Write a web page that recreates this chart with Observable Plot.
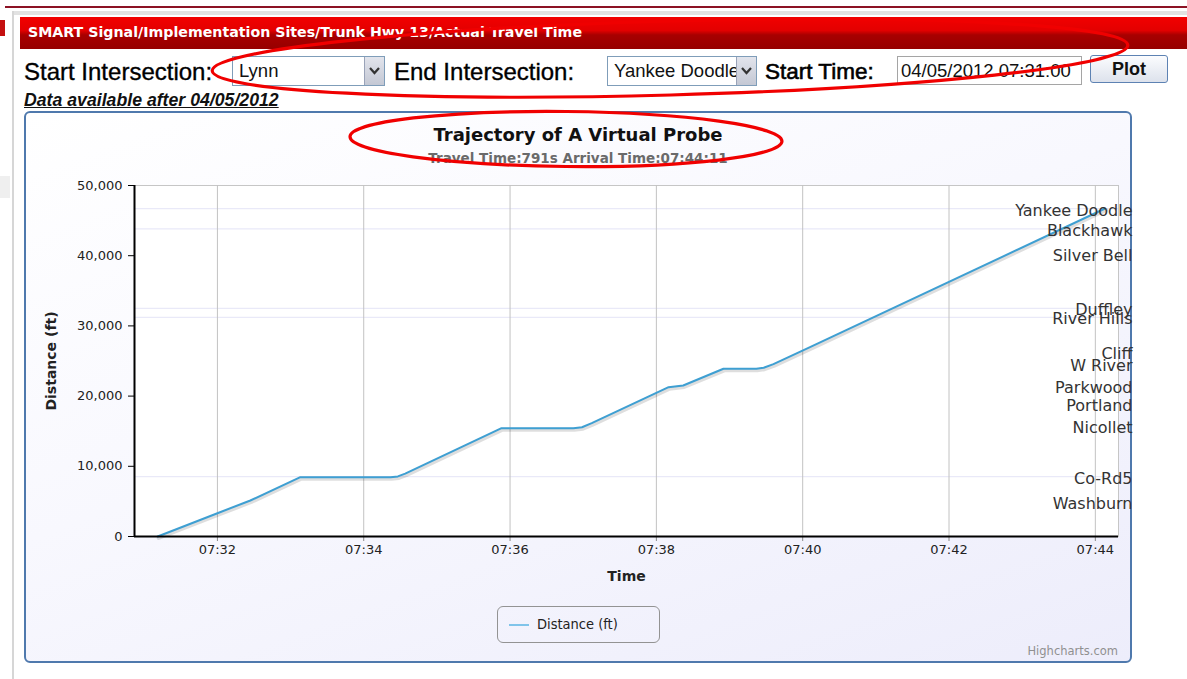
<!DOCTYPE html>
<html>
<head>
<meta charset="utf-8">
<script src="https://cdn.jsdelivr.net/npm/d3@7"></script>
<script src="https://cdn.jsdelivr.net/npm/@observablehq/plot@0.6"></script>
<style>
  html, body { margin: 0; padding: 0; }
  body { width: 1187px; height: 679px; overflow: hidden; background: #fff; position: relative; font-family: "Liberation Sans", Arial, sans-serif; }
  .abs { position: absolute; }
  .ctl { font-size: 24px; color: #000; line-height: 30px; -webkit-text-stroke: 0.35px #000; white-space: nowrap; }
  .sel { border: 1px solid #7f9db9; background: #fff; box-sizing: border-box; overflow: hidden; }
  .sel .txt { position: absolute; left: 6px; top: 0; line-height: 28px; font-size: 18.5px; color: #111; white-space: nowrap; }
  .sel .btn { position: absolute; right: 0; top: 0; width: 20px; height: 100%; background: linear-gradient(#e2e4ec, #c4c8d4); border-left: 1px solid #9aa3b8; box-sizing: border-box; }
  #chartBox { left: 24px; top: 111px; width: 1108px; height: 552px; box-sizing: border-box; border: 2px solid #4f79ad; border-radius: 6px;
              background: linear-gradient(160deg, #ffffff 0%, #f8f8fe 45%, #ededfb 100%); }
  #plotHolder { left: 24px; top: 111px; }
  #plotHolder svg { overflow: visible; }
  g[aria-label="y-axis label"] text, g[aria-label="x-axis label"] text { font-weight: bold; font-size: 14px; fill: #222; }
  g[aria-label="frame"] { filter: drop-shadow(2px -1px 2px rgba(0,0,0,0.28)); }
</style>
</head>
<body>
<!-- page chrome -->
<div class="abs" style="left:5px;top:6px;width:1182px;height:2px;background:#8c1224;"></div>
<div class="abs" style="left:12px;top:11px;width:1175px;height:4px;background:#e2e2e2;"></div>
<div class="abs" style="left:12px;top:11px;width:2px;height:668px;background:#d6d6d6;"></div>
<div class="abs" style="left:0px;top:20px;width:5px;height:16px;background:#c41010;"></div>
<div class="abs" style="left:0px;top:176px;width:10px;height:22px;background:#efefef;"></div>

<div class="abs" id="header" style="left:20px;top:17px;width:1167px;height:32px;background:linear-gradient(#f20000 0%, #e30000 42%, #a80000 56%, #960000 100%);"></div>
<div class="abs" id="headerText" style="left:28px;top:17px;height:32px;line-height:30px;color:#fff;font-family:'DejaVu Sans',sans-serif;font-weight:bold;font-size:14.2px;white-space:nowrap;"></div>

<div class="abs ctl" id="lblStart" style="left:24px;top:57px;"></div>
<div class="abs sel" style="left:232px;top:56px;width:153px;height:30px;"><span class="txt" id="selStart"></span><div class="btn"><svg width="19" height="28"><polyline points="5,11 9.5,16 14,11" fill="none" stroke="#333" stroke-width="2.2"/></svg></div></div>
<div class="abs ctl" id="lblEnd" style="left:394px;top:57px;"></div>
<div class="abs sel" style="left:607px;top:56px;width:150px;height:30px;"><span class="txt" id="selEnd"></span><div class="btn"><svg width="19" height="28"><polyline points="5,11 9.5,16 14,11" fill="none" stroke="#333" stroke-width="2.2"/></svg></div></div>
<div class="abs ctl" id="lblTime" style="left:765px;top:57px;font-size:22.5px;-webkit-text-stroke:0.6px #000;"></div>
<div class="abs" style="left:897px;top:56px;width:185px;height:29px;border:1px solid #a5a5a5;box-sizing:border-box;background:#fff;">
  <span id="inpTime" style="position:absolute;left:3px;top:0;line-height:27px;font-size:18.5px;color:#111;white-space:nowrap;"></span></div>
<div class="abs" id="btnPlot" style="left:1090px;top:55px;width:78px;height:28px;box-sizing:border-box;border:1px solid #5d82b3;border-radius:3px;background:linear-gradient(#fbfcfe,#dde2ec);text-align:center;line-height:26px;font-weight:bold;font-size:18px;color:#111;"></div>

<div class="abs" id="availNote" style="left:24px;top:90px;font-size:17.7px;font-weight:bold;font-style:italic;text-decoration:underline;color:#111;white-space:nowrap;"></div>

<!-- chart container -->
<div class="abs" id="chartBox"></div>
<div class="abs" id="plotHolder"></div>
<div class="abs" id="chartTitle" style="left:24px;width:1108px;top:124px;text-align:center;font-family:'DejaVu Sans',sans-serif;font-weight:bold;font-size:18px;color:#111;"></div>
<div class="abs" id="chartSub" style="left:24px;width:1108px;top:150px;text-align:center;font-family:'DejaVu Sans',sans-serif;font-weight:bold;font-size:13.5px;color:#6a6a6a;"></div>

<div class="abs" style="left:497px;top:606px;width:163px;height:37px;box-sizing:border-box;border:1px solid #939393;border-radius:6px;">
  <div style="position:absolute;left:11px;top:17px;width:20px;height:2px;background:#80c4ea;"></div>
  <span id="legendText" style="position:absolute;left:39px;top:0;line-height:35px;font-family:'DejaVu Sans Condensed','DejaVu Sans',sans-serif;font-size:14.5px;color:#222;white-space:nowrap;"></span>
</div>
<div class="abs" id="credit" style="right:69px;top:644px;font-family:'DejaVu Sans',sans-serif;font-size:11.5px;color:#909090;white-space:nowrap;"></div>

<!-- hand-drawn annotation ellipses -->
<svg class="abs" style="left:0;top:0;pointer-events:none;" width="1187" height="679">
  <ellipse cx="670" cy="58" rx="458" ry="37" transform="rotate(-1.6 670 58)" fill="none" stroke="#f00000" stroke-width="3.2"/>
  <ellipse cx="566" cy="139" rx="216" ry="27.5" transform="rotate(0.6 566 139)" fill="none" stroke="#f00000" stroke-width="3.2"/>
</svg>

<script>
// ---------------- data ----------------
const headerText = "SMART Signal/Implementation Sites/Trunk Hwy 13/Actual Travel Time";
const controlLabels = ["Start Intersection:", "End Intersection:", "Start Time:"];
const startIntersection = "Lynn";
const endIntersection = "Yankee Doodle";
const startTime = "04/05/2012 07:31:00";
const buttonLabel = "Plot";
const availabilityNote = "Data available after 04/05/2012";

const chartTitle = "Trajectory of A Virtual Probe";
const chartSubtitle = "Travel Time:791s Arrival Time:07:44:11";
const xAxisTitle = "Time";
const yAxisTitle = "Distance (ft)";
const seriesName = "Distance (ft)";
const creditText = "Highcharts.com";

// trajectory of the virtual probe (time of day, distance in ft)
const trajTimes = ["07:31:11","07:32:00","07:32:27","07:33:08","07:34:22","07:34:28","07:34:34","07:35:53","07:36:52","07:36:59","07:37:07","07:38:10","07:38:22","07:38:55","07:39:22","07:39:28","07:39:36","07:40:06","07:44:08"];
const trajDist  = [0, 3320, 5130, 8450, 8450, 8560, 8950, 15430, 15430, 15560, 16140, 21270, 21510, 23890, 23890, 24040, 24560, 26970, 46720];

// intersections along the corridor (distance in ft)
const intersectionNames = ["Yankee Doodle","Blackhawk","Silver Bell","Duffley","River Hills","Cliff","W River","Parkwood","Portland","Nicollet","Co-Rd5","Washburn"];
const intersectionDist  = [46720, 43820, 40210, 32500, 31220, 26310, 24540, 21470, 18950, 15770, 8530, 4940];
const intersectionsWithGridLine = ["Yankee Doodle","Blackhawk","Duffley","River Hills","Co-Rd5"];

// axes
const xTickLabels = ["07:32","07:34","07:36","07:38","07:40","07:42","07:44"];
const xDomainLabels = ["07:30:52","07:44:19"];
const yTicks = [0, 10000, 20000, 30000, 40000, 50000];
const yDomain = [0, 50000];

// ---------------- texts ----------------
document.getElementById("headerText").textContent = headerText;
document.getElementById("lblStart").textContent = controlLabels[0];
document.getElementById("lblEnd").textContent = controlLabels[1];
document.getElementById("lblTime").textContent = controlLabels[2];
document.getElementById("selStart").textContent = startIntersection;
document.getElementById("selEnd").textContent = endIntersection;
document.getElementById("inpTime").textContent = startTime;
document.getElementById("btnPlot").textContent = buttonLabel;
document.getElementById("availNote").textContent = availabilityNote;
document.getElementById("chartTitle").textContent = chartTitle;
document.getElementById("chartSub").textContent = chartSubtitle;
document.getElementById("legendText").textContent = seriesName;
document.getElementById("credit").textContent = creditText;

// ---------------- chart ----------------
const parseT = d3.utcParse("%H:%M:%S");
const parseHM = d3.utcParse("%H:%M");
const traj = trajTimes.map((t, i) => ({t: parseT(t), d: trajDist[i]}));
const inter = intersectionNames.map((n, i) => ({name: n, d: intersectionDist[i]}));
const gridRows = inter.filter(r => intersectionsWithGridLine.includes(r.name));
const xTicks = xTickLabels.map(parseHM);
const xDomain = xDomainLabels.map(parseT);

const chart = Plot.plot({
  width: 1108, height: 552,
  marginLeft: 110, marginRight: 14, marginTop: 74, marginBottom: 127,
  style: {background: "transparent", fontFamily: "'DejaVu Sans', sans-serif", fontSize: "13px", color: "#222", overflow: "visible"},
  x: {type: "utc", domain: xDomain},
  y: {domain: yDomain},
  marks: [
    Plot.frame({fill: "white", stroke: "#c6c6c6"}),
    Plot.ruleY(gridRows, {y: "d", stroke: "#e9e9f8", strokeWidth: 1.3}),
    Plot.gridX(xTicks, {stroke: "#c2c2c2", strokeOpacity: 1, strokeWidth: 1}),
    Plot.line(traj, {x: "t", y: "d", stroke: "#000", strokeOpacity: 0.13, strokeWidth: 4, dx: 1, dy: 1.5}),
    Plot.line(traj, {x: "t", y: "d", stroke: "#3e9fd2", strokeWidth: 2}),
    Plot.text(inter, {y: "d", text: "name", frameAnchor: "right", textAnchor: "end", dx: 14, dy: 2, fontSize: 16, fill: "#333"}),
    Plot.axisY({ticks: yTicks, tickFormat: d3.format(","), tickSize: 6, tickPadding: 6, stroke: "#000",
                label: yAxisTitle, labelAnchor: "center", labelOffset: 88, labelArrow: "none"}),
    Plot.axisX({ticks: xTicks, tickFormat: d3.utcFormat("%H:%M"), tickSize: 5, tickPadding: 3, stroke: "#888",
                label: xAxisTitle, labelAnchor: "center", labelOffset: 44, labelArrow: "none"}),
    Plot.ruleX([xDomain[0]], {stroke: "#000", strokeWidth: 2}),
    Plot.ruleY([0], {stroke: "#000", strokeWidth: 2})
  ]
});
document.getElementById("plotHolder").appendChild(chart);
</script>
</body>
</html>
